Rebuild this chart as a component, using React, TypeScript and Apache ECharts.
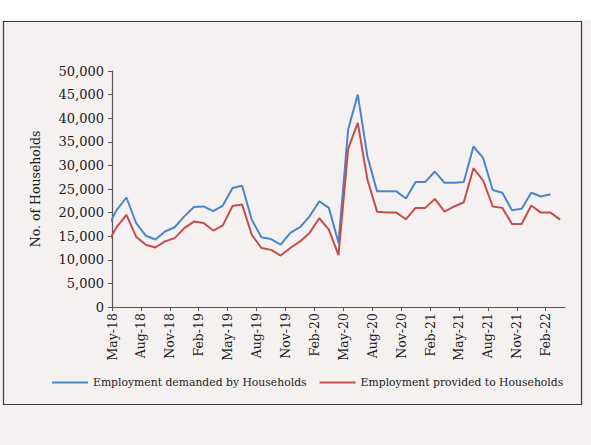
import React, { useEffect, useRef } from "react";
import * as echarts from "echarts";

const months = [
  "Apr-18", "May-18", "Jun-18", "Jul-18", "Aug-18", "Sep-18", "Oct-18", "Nov-18", "Dec-18", "Jan-19", "Feb-19", "Mar-19",
  "Apr-19", "May-19", "Jun-19", "Jul-19", "Aug-19", "Sep-19", "Oct-19", "Nov-19", "Dec-19", "Jan-20", "Feb-20", "Mar-20",
  "Apr-20", "May-20", "Jun-20", "Jul-20", "Aug-20", "Sep-20", "Oct-20", "Nov-20", "Dec-20", "Jan-21", "Feb-21", "Mar-21",
  "Apr-21", "May-21", "Jun-21", "Jul-21", "Aug-21", "Sep-21", "Oct-21", "Nov-21", "Dec-21", "Jan-22", "Feb-22", "Mar-22",
];

const demanded = [
  16600, 20600, 23200, 17800, 15100, 14300, 16000, 16900, 19200, 21200, 21300, 20300,
  21500, 25200, 25700, 18500, 14800, 14400, 13200, 15700, 16900, 19200, 22400, 21000,
  13600, 37600, 45000, 31900, 24500, 24500, 24500, 23000, 26500, 26500, 28700, 26300,
  26300, 26500, 34000, 31600, 24800, 24200, 20500, 20800, 24200, 23400, 23900, null,
];

const provided = [
  13400, 17000, 19500, 14900, 13200, 12600, 13900, 14600, 16700, 18100, 17800, 16200,
  17300, 21400, 21700, 15300, 12500, 12100, 10900, 12500, 13900, 15700, 18800, 16400,
  11000, 33500, 39000, 27000, 20200, 20000, 20000, 18600, 21000, 21000, 22900, 20200,
  21300, 22200, 29400, 26800, 21300, 21000, 17600, 17600, 21500, 20000, 20000, 18500,
];

const tickLabels = [
  "May-18", "Aug-18", "Nov-18", "Feb-19", "May-19", "Aug-19", "Nov-19", "Feb-20",
  "May-20", "Aug-20", "Nov-20", "Feb-21", "May-21", "Aug-21", "Nov-21", "Feb-22",
];

const seriesNames = ["Employment demanded by Households", "Employment provided to Households"];

const FONT = "DejaVu Serif";

export default function App() {
  const ref = useRef<HTMLDivElement>(null);
  useEffect(() => {
    if (!ref.current) return;
    const chart = echarts.init(ref.current, null, { renderer: "svg" });
    const start = months.indexOf("May-18");
    const toXY = (arr: (number | null)[]) =>
      arr.map((v, j) => [j - start + 0.5, v]).filter((p) => p[1] !== null);
    const tickValues = tickLabels.map((l) => months.indexOf(l) - start);
    chart.setOption({
      animation: false,
      backgroundColor: "#f5f1f1",
      graphic: [
        { type: "rect", shape: { x: 0, y: 0, width: 591, height: 20 }, style: { fill: "#ffffff" }, z: -1 },
        {
          type: "rect",
          shape: { x: 3.5, y: 21.5, width: 578, height: 383 },
          style: { fill: "none", stroke: "#3a3a3a", lineWidth: 1.2 },
          z: -1,
        },
      ],
      grid: { left: 112, right: 26, top: 71, bottom: 138 },
      legend: {
        left: 47,
        top: 372,
        icon: "rect",
        itemWidth: 36,
        itemHeight: 2,
        itemGap: 13,
        textStyle: { fontFamily: FONT, fontSize: 10.8, color: "#1a1a1a" },
        data: seriesNames,
      },
      xAxis: {
        type: "value",
        min: 0,
        max: months.length - start,
        axisLine: { show: true, lineStyle: { color: "#555", width: 1.2 } },
        axisTick: { show: true, length: 4, lineStyle: { color: "#555" }, customValues: tickValues },
        splitLine: { show: false },
        axisLabel: {
          customValues: tickValues,
          rotate: 90,
          margin: 6,
          fontFamily: FONT,
          fontSize: 12.5,
          color: "#1a1a1a",
          formatter: (v: number) => months[Math.round(v) + start] ?? "",
        },
      },
      yAxis: {
        type: "value",
        min: 0,
        max: 50000,
        interval: 5000,
        name: "No. of Households",
        nameLocation: "middle",
        nameGap: 70,
        nameRotate: 90,
        nameTextStyle: { fontFamily: FONT, fontSize: 12.5, color: "#1a1a1a" },
        axisLine: { show: true, lineStyle: { color: "#555", width: 1.2 } },
        axisTick: { show: true, length: 4, lineStyle: { color: "#555" } },
        splitLine: { show: false },
        axisLabel: {
          margin: 8,
          fontFamily: FONT,
          fontSize: 13,
          color: "#1a1a1a",
          formatter: (v: number) => v.toLocaleString("en-US"),
        },
      },
      series: [
        {
          name: seriesNames[0],
          type: "line",
          data: toXY(demanded),
          symbol: "none",
          lineStyle: { color: "#4a86c8", width: 2 },
          itemStyle: { color: "#4a86c8" },
        },
        {
          name: seriesNames[1],
          type: "line",
          data: toXY(provided),
          symbol: "none",
          lineStyle: { color: "#c44e4e", width: 2 },
          itemStyle: { color: "#c44e4e" },
        },
      ],
    });
    return () => chart.dispose();
  }, []);
  return (
    <div
      ref={ref}
      style={{ position: "fixed", left: 0, top: 0, width: 591, height: 445 }}
    />
  );
}
